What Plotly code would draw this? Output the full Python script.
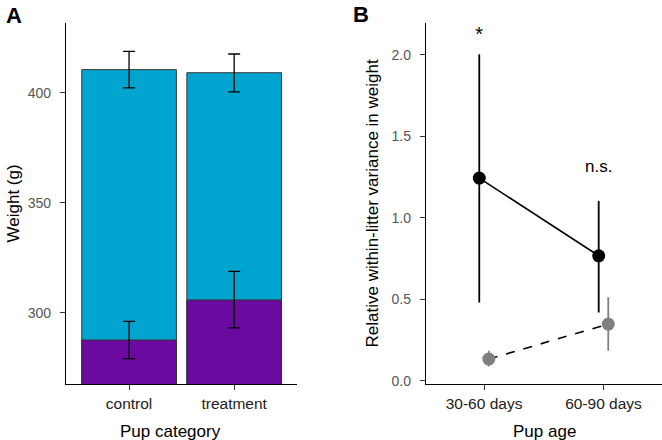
import plotly.graph_objects as go

# Panel A: pup weights
categories = ["control", "treatment"]
weight_late = [410.6, 409.2]
weight_late_lo = [402.3, 400.5]
weight_late_hi = [418.9, 417.7]
weight_early = [287.7, 305.9]
weight_early_lo = [279.2, 293.2]
weight_early_hi = [296.2, 318.9]

# Panel B: relative within-litter variance
ages = ["30-60 days", "60-90 days"]
var_black = [1.244, 0.767]
var_black_lo = [0.48, 0.419]
var_black_hi = [2.004, 1.104]
var_gray = [0.133, 0.348]
var_gray_lo = [0.088, 0.184]
var_gray_hi = [0.184, 0.513]
signif = ["*", "n.s."]
signif_y = [2.115, 1.31]

CYAN = "#00A5CF"
PURPLE = "#6B0AA0"
GRAY = "#808080"
FAM = "Liberation Sans, Arial"
YTICKFONT = dict(family=FAM, size=14, color="#555555")
XTICKFONT = dict(family=FAM, size=15.5, color="#222222")
TITLEFONT = dict(family=FAM, size=17, color="black")

fig = go.Figure()

for vals, lo, hi, col in [(weight_late, weight_late_lo, weight_late_hi, CYAN),
                          (weight_early, weight_early_lo, weight_early_hi, PURPLE)]:
    fig.add_trace(go.Bar(
        x=categories, y=vals, width=0.9, marker_color=col,
        marker_line=dict(color="#333333", width=1),
        error_y=dict(type="data", symmetric=False,
                     array=[h - v for h, v in zip(hi, vals)],
                     arrayminus=[v - l for v, l in zip(vals, lo)],
                     color="black", thickness=1.3, width=6),
        xaxis="x", yaxis="y", showlegend=False))

dodge = 0.04
xb = [i - dodge for i in range(len(ages))]
xg = [i + dodge for i in range(len(ages))]

fig.add_trace(go.Scatter(
    x=xg, y=var_gray, mode="lines+markers",
    line=dict(color="black", width=1.6, dash="dash"),
    marker=dict(color=GRAY, size=13),
    error_y=dict(type="data", symmetric=False,
                 array=[h - v for h, v in zip(var_gray_hi, var_gray)],
                 arrayminus=[v - l for v, l in zip(var_gray, var_gray_lo)],
                 color=GRAY, thickness=1.8, width=0),
    xaxis="x2", yaxis="y2", showlegend=False))

fig.add_trace(go.Scatter(
    x=xb, y=var_black, mode="lines+markers",
    line=dict(color="black", width=1.6),
    marker=dict(color="black", size=13),
    error_y=dict(type="data", symmetric=False,
                 array=[h - v for h, v in zip(var_black_hi, var_black)],
                 arrayminus=[v - l for v, l in zip(var_black, var_black_lo)],
                 color="black", thickness=1.8, width=0),
    xaxis="x2", yaxis="y2", showlegend=False))

fig.add_trace(go.Scatter(
    x=xb, y=signif_y, mode="text", text=signif,
    textfont=dict(family=FAM, size=[20, 17], color="black"),
    xaxis="x2", yaxis="y2", showlegend=False, hoverinfo="skip"))

axis_common = dict(showline=True, linecolor="black", linewidth=1.3,
                   ticks="outside", ticklen=5, tickcolor="#333333",
                   showgrid=False, zeroline=False, automargin=False)

# axis titles as paper annotations, placed to match the reference layout
annotations = [
    dict(text="Pup category", x=170 / 662, y=0, yshift=-47, font=TITLEFONT),
    dict(text="Pup age", x=544 / 662, y=0, yshift=-47, font=TITLEFONT),
    dict(text="Weight (g)", x=13 / 662, y=0.5, textangle=-90, font=TITLEFONT),
    dict(text="Relative within-litter variance in weight", x=372 / 662, y=0.5,
         textangle=-90, font=TITLEFONT),
    dict(text="<b>A</b>", x=14 / 662, y=1, yshift=8,
         font=dict(family=FAM, size=22, color="black")),
    dict(text="<b>B</b>", x=361 / 662, y=1, yshift=9,
         font=dict(family=FAM, size=22, color="black")),
]
for a in annotations:
    a.update(xref="paper", yref="paper", showarrow=False, xanchor="center", yanchor="middle")

fig.update_layout(
    width=662, height=440,
    margin=dict(l=0, r=0, t=23, b=56),
    plot_bgcolor="white", paper_bgcolor="white",
    barmode="overlay",
    xaxis=dict(domain=[0.0997, 0.449], range=[-0.6, 1.6], tickfont=XTICKFONT, **axis_common),
    yaxis=dict(range=[267.7, 431.8], tickvals=[300, 350, 400], tickfont=YTICKFONT,
               ticklabelstandoff=6, **axis_common),
    xaxis2=dict(domain=[0.6435, 1.0], range=[-0.486, 1.49], anchor="y2",
                tickvals=list(range(len(ages))), ticktext=ages, tickfont=XTICKFONT,
                **axis_common),
    yaxis2=dict(range=[-0.02, 2.196], anchor="x2", tickfont=YTICKFONT, ticklabelstandoff=6,
                tickvals=[0, 0.5, 1.0, 1.5, 2.0], ticktext=["0.0", "0.5", "1.0", "1.5", "2.0"],
                **axis_common),
    annotations=annotations,
)

# drop the browser's default 8px body margin so the figure sits at the window corner
fig.write_html("out.html", config={"displayModeBar": False},
               post_script="document.body.style.margin='0';")
